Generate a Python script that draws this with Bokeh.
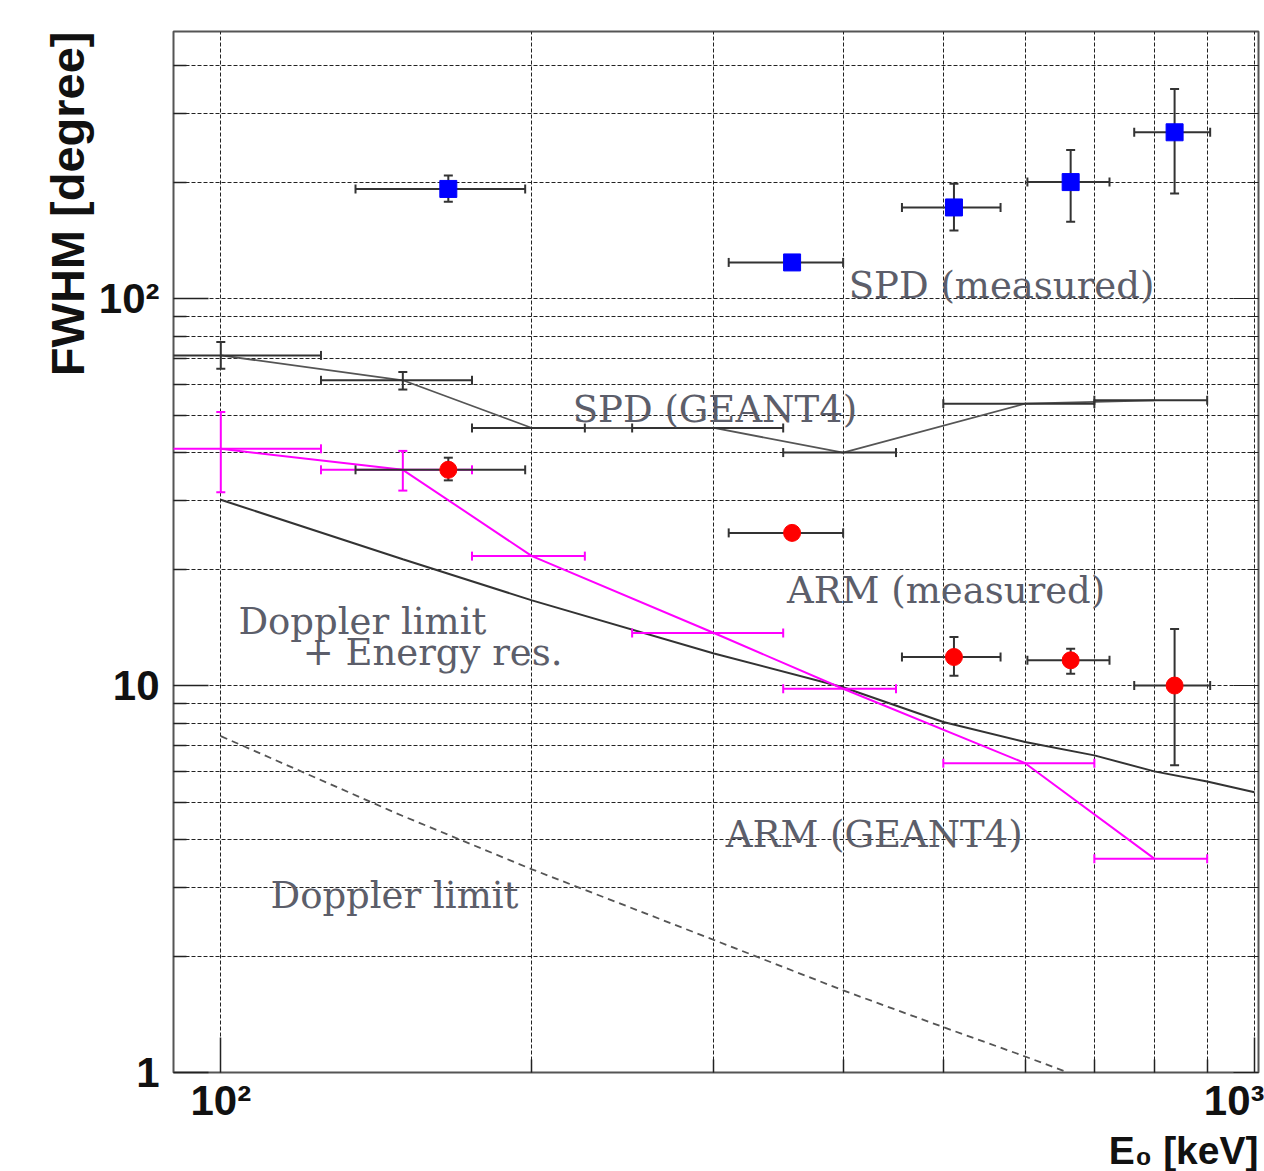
import math
from bokeh.plotting import figure
from bokeh.models import (FixedTicker, Label, Title, CustomJSTickFormatter, Range1d, LogAxis)
from bokeh.embed import file_html
from bokeh.resources import INLINE

# ---------------- data ----------------
# measured points (energy bins in keV)
meas_energy = [166, 357, 512, 664, 837]
meas_elo = [135, 310, 456, 603, 765]
meas_ehi = [197, 400, 568, 724, 906]

spd_meas = [192, 124, 172, 200, 269]
spd_meas_lo = [178, 124, 150, 158, 187]
spd_meas_hi = [208, 124, 198, 242, 348]

arm_meas = [36.1, 24.8, 11.85, 11.62, 10.0]
arm_meas_lo = [33.9, 24.8, 10.6, 10.73, 6.22]
arm_meas_hi = [38.8, 24.8, 13.35, 12.45, 14.0]

# GEANT4 simulation bins
sim_energy = [100, 150, 200, 300, 400, 600, 800]
sim_elo = [75, 125, 175, 250, 350, 500, 700]
sim_ehi = [125, 175, 225, 350, 450, 700, 900]

spd_sim = [71.3, 61.5, 46.3, 46.3, 40.0, 53.5, 54.6]
spd_sim_lo = [65.9, 58.2, 46.3, 46.3, 40.0, 53.5, 54.6]
spd_sim_hi = [77.2, 64.6, 46.3, 46.3, 40.0, 53.5, 54.6]

arm_sim = [40.9, 36.1, 21.6, 13.67, 9.81, 6.30, 3.57]
arm_sim_lo = [31.6, 31.9, 21.6, 13.67, 9.81, 6.30, 3.57]
arm_sim_hi = [50.9, 40.4, 21.6, 13.67, 9.81, 6.30, 3.57]

# Doppler limit + energy resolution curve
dopres_energy = [100, 150, 200, 300, 400, 500, 600, 700, 800, 900, 1000]
dopres_fwhm = [30.2, 21.2, 16.6, 12.1, 9.9, 8.05, 7.15, 6.6, 6.0, 5.65, 5.3]

# Doppler limit curve
dop_energy = [100, 150, 200, 300, 400, 500, 600, 660]
dop_fwhm = [7.4, 4.6, 3.35, 2.2, 1.63, 1.31, 1.1, 1.0]

# axis ticks
x_major = [100, 1000]
x_minor = [200, 300, 400, 500, 600, 700, 800, 900]
y_major = [1, 10, 100]
y_minor = [2, 3, 4, 5, 6, 7, 8, 9, 20, 30, 40, 50, 60, 70, 80, 90, 200, 300, 400]
x_tick_labels = {100: "10\u00b2", 1000: "10\u00b3"}
y_tick_labels = {1: "1", 10: "10", 100: "10\u00b2"}

# ---------------- figure ----------------
p = figure(width=1264, height=1171, x_axis_type="log", y_axis_type="log",
           x_range=Range1d(90, 1009), y_range=Range1d(1, 490),
           output_backend="svg", toolbar_location=None,
           min_border_left=173, min_border_right=6, min_border_top=31,
           min_border_bottom=96)
p.background_fill_color = "white"
p.border_fill_color = "white"
p.outline_line_color = "#555555"
p.outline_line_width = 2


def fmt(mapping):
    entries = ",".join('[%r,"%s"]' % (float(k), v) for k, v in mapping.items())
    code = ("const m=[%s]; for (const e of m) { if (Math.abs(tick-e[0])/e[0] < 1e-6) return e[1]; } return '';"
            % entries)
    return CustomJSTickFormatter(code=code)


xticker = FixedTicker(ticks=x_major, minor_ticks=x_minor)
yticker = FixedTicker(ticks=y_major, minor_ticks=y_minor)
p.xaxis.ticker = xticker
p.yaxis.ticker = yticker
p.xgrid.ticker = xticker
p.ygrid.ticker = yticker
p.xaxis.formatter = fmt(x_tick_labels)
p.yaxis.formatter = fmt(y_tick_labels)

for g in (p.xgrid, p.ygrid):
    g.grid_line_color = "#222222"
    g.grid_line_dash = "4 2"
    g.grid_line_alpha = 1.0
    g.grid_line_width = 1
    g.minor_grid_line_color = "#222222"
    g.minor_grid_line_dash = "4 2"
    g.minor_grid_line_alpha = 1.0
    g.minor_grid_line_width = 1

for ax in (p.xaxis, p.yaxis):
    ax.axis_line_color = None
    ax.major_tick_in = 35
    ax.major_tick_out = 0
    ax.minor_tick_in = 13
    ax.minor_tick_out = 0
    ax.major_tick_line_color = "#222222"
    ax.minor_tick_line_color = "#222222"
    ax.major_tick_line_width = 1.5
    ax.minor_tick_line_width = 1.5
    ax.major_label_text_font = "Liberation Sans"
    ax.major_label_text_font_style = "bold"
    ax.major_label_text_font_size = "42px"
    ax.major_label_text_color = "#111111"
p.xaxis.major_label_standoff = 4
p.yaxis.major_label_standoff = 14

raxis = LogAxis(ticker=yticker, formatter=CustomJSTickFormatter(code="return '';"))
raxis.axis_line_color = None
raxis.major_tick_in = 25
raxis.major_tick_out = 0
raxis.minor_tick_in = 10
raxis.minor_tick_out = 0
raxis.major_label_standoff = 0
raxis.major_tick_line_color = "#222222"
raxis.minor_tick_line_color = "#222222"
p.add_layout(raxis, "right")

# axis titles
p.add_layout(Title(text="E\u2080 [keV]", align="right", text_font="Liberation Sans",
                   text_font_style="bold", text_font_size="39px", text_color="#111111",
                   standoff=0, offset=0), "below")
p.add_layout(Title(text="FWHM [degree]", align="right", text_font="Liberation Sans",
                   text_font_style="bold", text_font_size="47px", text_color="#111111",
                   standoff=4), "left")

# ---------------- curves ----------------
p.line(dop_energy, dop_fwhm, line_color="#555555", line_width=1.8, line_dash="7 5")
p.line(dopres_energy, dopres_fwhm, line_color="#333333", line_width=2)
p.line(sim_energy, spd_sim, line_color="#555555", line_width=1.8)
p.line(sim_energy, arm_sim, line_color="#ff00ff", line_width=2)


def errbars(x, xlo, xhi, y, ylo, yhi, color, width=2, cap=9):
    p.segment(x0=xlo, y0=y, x1=xhi, y1=y, line_color=color, line_width=width)
    p.scatter(x=xlo + xhi, y=y + y, marker="dash", angle=math.pi / 2, size=cap,
              line_color=color, line_width=width)
    idx = [i for i in range(len(y)) if yhi[i] > ylo[i]]
    if idx:
        xs = [x[i] for i in idx]
        lo = [ylo[i] for i in idx]
        hi = [yhi[i] for i in idx]
        p.segment(x0=xs, y0=lo, x1=xs, y1=hi, line_color=color, line_width=width)
        p.scatter(x=xs + xs, y=lo + hi, marker="dash", size=cap,
                  line_color=color, line_width=width)


errbars(sim_energy, sim_elo, sim_ehi, spd_sim, spd_sim_lo, spd_sim_hi, "#333333")
errbars(sim_energy, sim_elo, sim_ehi, arm_sim, arm_sim_lo, arm_sim_hi, "#ff00ff")
errbars(meas_energy, meas_elo, meas_ehi, spd_meas, spd_meas_lo, spd_meas_hi, "#333333")
errbars(meas_energy, meas_elo, meas_ehi, arm_meas, arm_meas_lo, arm_meas_hi, "#333333")

p.scatter(meas_energy, spd_meas, marker="square", size=17, color="#0000ff")
p.scatter(meas_energy, arm_meas, marker="circle", size=17, color="#ff0000")

# ---------------- text labels ----------------
txt_color = "#5c5e6a"
labels = [
    ("SPD (measured)", 405, 108),
    ("SPD (GEANT4)", 219, 51.8),
    ("ARM (measured)", 353, 17.65),
    ("Doppler limit", 104, 14.6),
    ("+ Energy res.", 120, 12.2),
    ("ARM (GEANT4)", 308, 4.11),
    ("Doppler limit", 111.7, 2.87),
]
for t, x, y in labels:
    p.add_layout(Label(x=x, y=y, text=t, text_font="DejaVu Serif", text_font_size="37px",
                       text_color=txt_color, text_baseline="alphabetic", text_align="left"))

open("out.html", "w").write(file_html(p, INLINE))
